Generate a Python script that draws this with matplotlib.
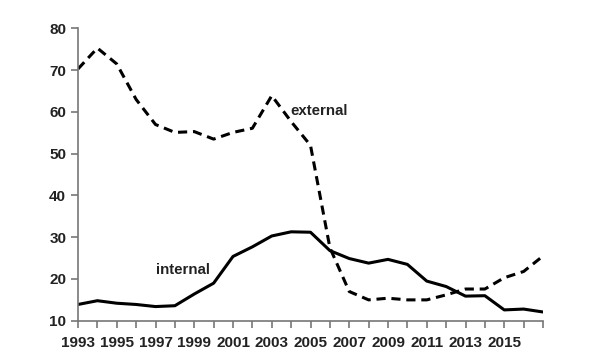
import matplotlib
matplotlib.use("Agg")
from matplotlib import pyplot as plt

plt.rcParams['font.family'] = ['Liberation Sans', 'DejaVu Sans']

years = list(range(1993, 2018))
internal = [13.9, 14.8, 14.2, 13.9, 13.4, 13.6, 16.4, 19.0, 25.4, 27.7, 30.3, 31.3, 31.2,
            26.8, 24.9, 23.8, 24.7, 23.5, 19.5, 18.2, 15.9, 16.0, 12.6, 12.8, 12.1]
external = [70.3, 75.3, 71.5, 63.0, 57.0, 55.1, 55.3, 53.5, 55.1, 56.1, 63.9, 57.7, 52.0,
            27.5, 17.0, 15.0, 15.4, 15.0, 15.0, 16.2, 17.6, 17.6, 20.3, 21.8, 25.5]
tick_labels = [str(y) if (y - 1993) % 2 == 0 and y < 2017 else '' for y in years]

fig = plt.figure(figsize=(6, 3.6), dpi=100)
ax = fig.add_axes([0.13, 0.109, 0.775, 0.812])

ax.plot(years, internal, color='black', lw=2.2, solid_joinstyle='round')
ax.plot(years, external, color='black', lw=2.2, dashes=(3.0, 1.9))

ax.text(2003.95, 60.3, 'external', fontsize=10.8, fontweight='bold', color='#222222',
        va='center', ha='left')
ax.text(1997.05, 22.2, 'internal', fontsize=10.8, fontweight='bold', color='#222222',
        va='center', ha='left')

ax.set_xlim(1993, 2017)
ax.set_ylim(10, 80)
ax.set_xticks(years)
ax.set_xticklabels(tick_labels)
ax.set_yticks(range(10, 81, 10))

for s in ['top', 'right']:
    ax.spines[s].set_visible(False)
for s in ['left', 'bottom']:
    ax.spines[s].set_color('#777777')
    ax.spines[s].set_linewidth(1.2)

ax.tick_params(axis='both', direction='out', length=5, width=1.2, color='#777777',
               labelsize=11, labelcolor='#222222')
ax.tick_params(axis='x', pad=6)
for lbl in ax.get_xticklabels() + ax.get_yticklabels():
    lbl.set_fontweight('bold')

fig.savefig('out.png', dpi=100)
